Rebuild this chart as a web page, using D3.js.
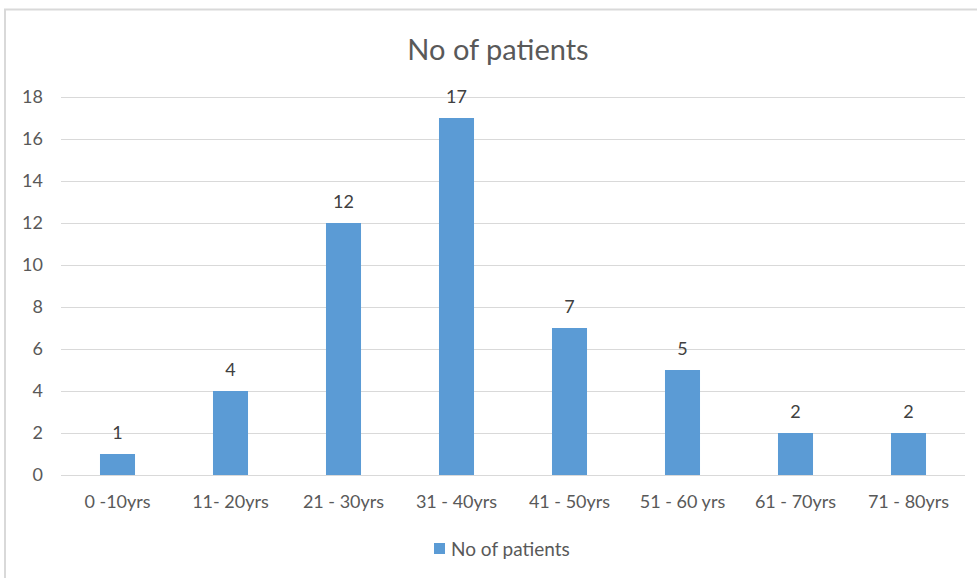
<!DOCTYPE html>
<html><head><meta charset="utf-8">
<script src="https://cdn.jsdelivr.net/npm/d3@7"></script>
<style>body{margin:0;background:#fff;}svg{display:block;font-family:Lato,"Open Sans",sans-serif;}</style>
</head><body>
<svg id="c" width="977" height="578"></svg>
<script>
const categories = ["0 -10yrs","11- 20yrs","21 - 30yrs","31 - 40yrs","41 - 50yrs","51 - 60 yrs","61 - 70yrs","71 - 80yrs"];
const values = [1,4,12,17,7,5,2,2];
const yTicks = [0,2,4,6,8,10,12,14,16,18];
const seriesName = "No of patients";
const title = "No of patients";

const svg = d3.select("#c");
const color = "#5b9bd5";
// frame
svg.append("rect").attr("x",5).attr("y",9.5).attr("width",1000).attr("height",600)
  .attr("fill","none").attr("stroke","#d9d9d9").attr("stroke-width",2);

const m = {left:61, right:965, top:97, bottom:475};
const x = d3.scaleBand().domain(categories).range([m.left,m.right]).paddingInner(0.69).paddingOuter(0.345);
const y = d3.scaleLinear().domain([0,18]).range([m.bottom,m.top]);

// gridlines
svg.append("g").selectAll("line").data(yTicks).join("line")
  .attr("x1",m.left).attr("x2",m.right)
  .attr("y1",d=>y(d)+0.5).attr("y2",d=>y(d)+0.5)
  .attr("stroke","#d9d9d9").attr("stroke-width",1);

// y labels
svg.append("g").selectAll("text").data(yTicks).join("text")
  .attr("x",43).attr("y",d=>y(d)).attr("dy","0.35em")
  .attr("text-anchor","end").attr("font-size",18).attr("fill","#595959").text(d=>d);

// bars
svg.append("g").selectAll("rect").data(values).join("rect")
  .attr("x",(d,i)=>x(categories[i])).attr("width",x.bandwidth())
  .attr("y",d=>y(d)).attr("height",d=>y(0)-y(d)).attr("fill",color);

// data labels
svg.append("g").selectAll("text").data(values).join("text")
  .attr("x",(d,i)=>x(categories[i])+x.bandwidth()/2).attr("y",d=>y(d)-15)
  .attr("text-anchor","middle").attr("font-size",18).attr("fill","#404040").text(d=>d);

// x labels
svg.append("g").selectAll("text").data(categories).join("text")
  .attr("x",d=>x(d)+x.bandwidth()/2).attr("y",502).attr("dy","0.35em")
  .attr("text-anchor","middle").attr("font-size",18).attr("fill","#595959").text(d=>d);

// title
svg.append("text").attr("x",498).attr("y",50).attr("dy","0.35em").attr("text-anchor","middle")
  .attr("font-size",29).attr("fill","#595959").text(title);

// legend
svg.append("rect").attr("x",434).attr("y",543).attr("width",11).attr("height",11).attr("fill",color);
svg.append("text").attr("x",451).attr("y",549).attr("dy","0.35em").attr("font-size",19)
  .attr("fill","#595959").text(seriesName);
</script>
</body></html>
